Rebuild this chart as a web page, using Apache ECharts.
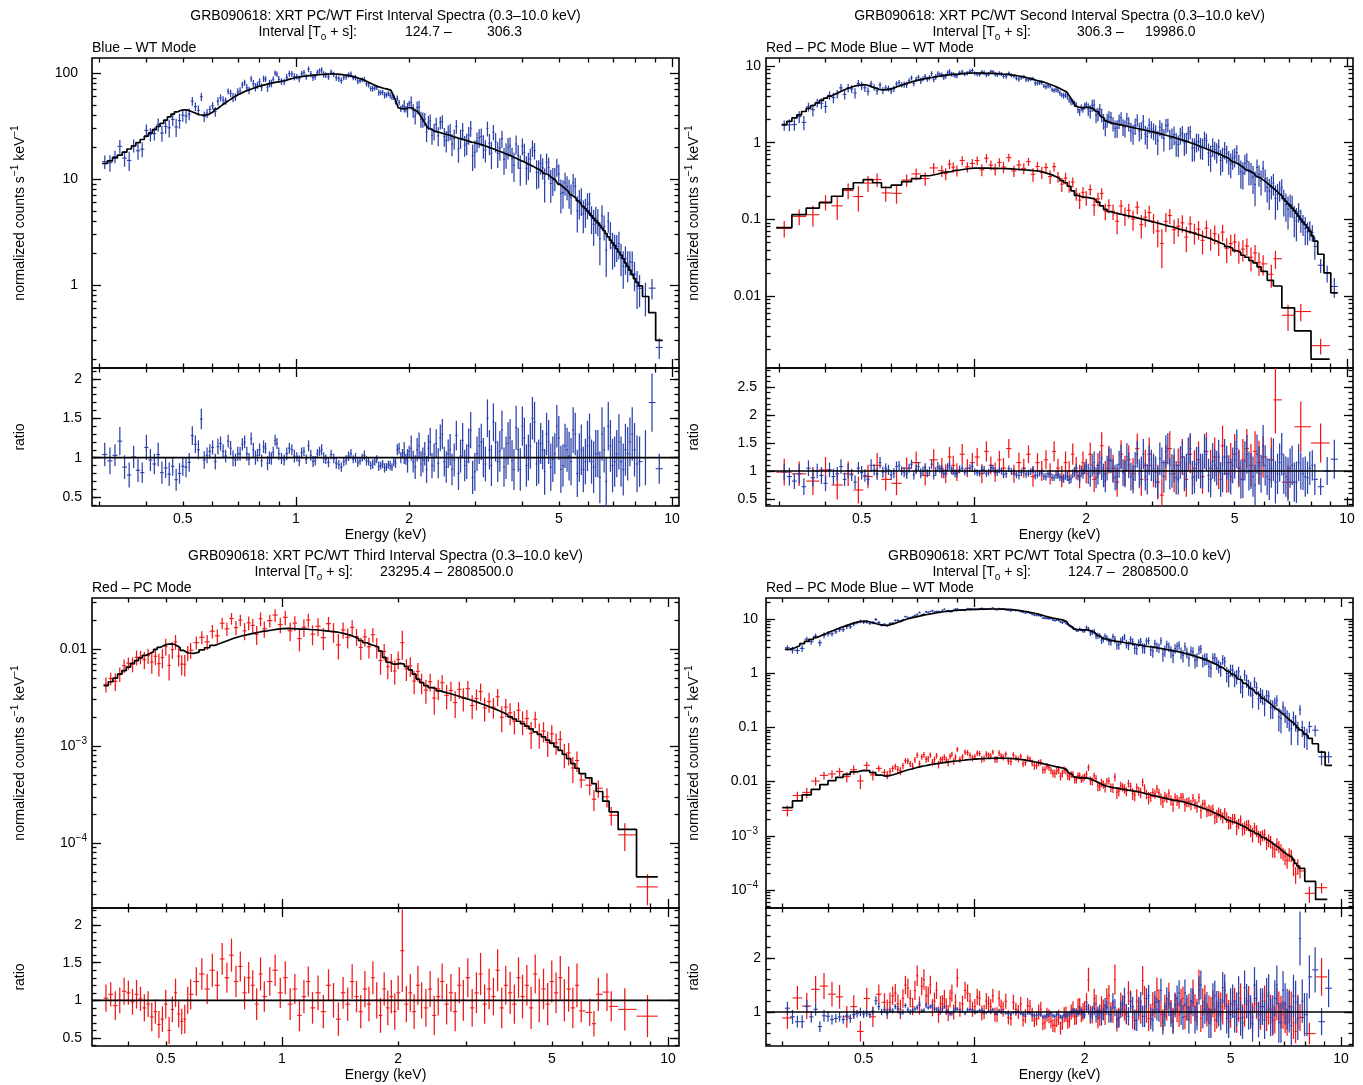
<!DOCTYPE html>
<html><head><meta charset="utf-8">
<script src="https://cdn.jsdelivr.net/npm/echarts@6/dist/echarts.min.js"></script>
<style>html,body{margin:0;padding:0;background:#fff}#c{width:1363px;height:1085px}</style>
</head><body><div id="c"></div>
<script>
const _ = null;
// Shared bin centres (keV)
const ENERGY_KEV = [0.31,0.32,0.33,0.34,0.35,0.36,0.37,0.38,0.39,0.40,
0.41,0.42,0.43,0.44,0.45,0.46,0.47,0.48,0.49,0.50,
0.51,0.52,0.53,0.54,0.55,0.56,0.57,0.58,0.60,0.62,
0.64,0.66,0.68,0.70,0.72,0.74,0.76,0.78,0.80,0.82,
0.84,0.86,0.88,0.90,0.93,0.96,0.99,1.02,1.05,1.08,
1.11,1.14,1.17,1.20,1.24,1.28,1.32,1.36,1.40,1.44,
1.48,1.52,1.56,1.60,1.64,1.68,1.72,1.76,1.80,1.84,
1.88,1.92,1.96,2.00,2.05,2.10,2.15,2.20,2.25,2.30,
2.36,2.42,2.48,2.54,2.60,2.67,2.74,2.81,2.88,2.95,
3.03,3.11,3.19,3.27,3.35,3.44,3.53,3.62,3.71,3.80,
3.90,4.00,4.10,4.20,4.31,4.42,4.53,4.64,4.76,4.88,
5.00,5.13,5.26,5.39,5.53,5.67,5.81,5.96,6.11,6.27,
6.43,6.60,6.77,6.95,7.13,7.32,7.52,7.73,7.95,8.20,
8.50,8.85,9.25];
// Extra, finer bin centres where the WT / total spectra are densely sampled (keV)
const ENERGY_KEV_FINE = [0.59,0.61,0.63,0.65,0.67,0.69,0.71,0.73,0.75,0.77,
0.79,0.81,0.83,0.85,0.87,0.89,0.915,0.945,0.975,1.005,
1.035,1.065,1.095,1.125,1.155,1.185,1.22,1.26,1.30,1.34,
1.38,1.42,1.46,1.50,1.54,1.58,1.62,1.66,1.70,1.74,
1.78,1.82,1.86,1.90,1.94,1.98,2.025,2.075,2.125,2.175,
2.225,2.275,2.33,2.39,2.45,2.51,2.57,2.635,2.705,2.775,
2.845,2.915,2.99,3.07,3.15,3.23,3.31,3.395,3.485,3.575,
3.665,3.755,3.85,3.95,4.05,4.15,4.255,4.365,4.475,4.585,
4.70,4.82,4.94,5.065,5.195,5.325,5.46,5.60,5.74,5.885,
6.035,6.19,6.35,6.515,6.685,6.86,7.04,7.225,7.42,7.625,
7.84,8.075];

// ---- First interval, WT (blue) ----
const TL_WT_MODEL = [14.0,14.8,15.8,16.8,17.9,19.2,20.5,22.0,23.6,25.4,
27.2,29.2,31.3,33.5,36.0,38.5,41.0,43.0,44.5,45.0,
44.6,43.6,42.4,41.2,40.4,40.0,40.1,40.5,43.5,47.5,
51.5,55.5,59.5,63,66,69,71,73.5,75.5,77.5,
79,80.5,82,83,85,88,90.5,92,93.5,94.5,
95.5,96.5,97,97.5,98,97.5,96.5,95,93,90.5,
88,84.5,81,77.5,74.5,72.5,71,70,67,58,
47,45.5,46.5,47.5,46.5,43,40,35,30.5,28.5,
27.8,27.2,26.5,26,25.2,24.5,23.8,23.2,22.6,22.1,
21.6,21,20.4,19.7,19.1,18.4,17.8,17.1,16.5,15.9,
15.2,14.6,14,13.4,12.8,12.2,11.6,11.1,10.3,9.7,
8.95,8.3,7.7,7.1,6.55,6.0,5.5,5.0,4.5,4.05,
3.65,3.25,2.85,2.5,2.2,1.92,1.62,1.38,1.15,0.98,
0.78,0.55,0.3];
const TL_WT_RATIO_PCT = [104,96,103,121,88,78,101,84,81,113,
97,92,104,81,87,79,89,72,80,89,
88,94,128,117,110,149,97,103,113,114,
108,121,99,105,117,105,124,100,110,114,
93,99,122,105,97,112,102,96,108,115,
95,105,110,98,104,93,88,97,105,100,
96,103,95,92,98,90,87,91,88,93,
112,105,98,108,95,110,92,105,112,90,
118,125,95,105,85,128,102,90,115,75,
105,120,92,110,145,95,135,100,125,85,
110,140,90,115,145,95,110,130,88,105,
125,90,110,95,130,100,85,115,95,105,
75,110,140,90,105,95,110,120,110,95,
100,170,86];
const TL_WT_ERR_PCT = [15,17,14,18,15,16,14,15,13,16,
14,13,15,14,13,15,12,14,13,12,
13,12,12,11,12,13,11,10,9,10,
9,8,10,9,8,9,8,9,8,8,
9,8,7,8,7,7,8,7,6,7,
7,6,7,6,6,7,6,6,6,6,
5,6,5,6,5,5,6,5,5,6,
7,6,7,7,14,15,16,15,17,16,
18,17,19,18,20,19,21,20,22,21,
22,23,22,25,24,26,25,27,24,26,
28,25,27,29,26,28,25,27,30,26,
28,27,28,30,27,31,29,32,28,30,
33,29,31,34,30,32,33,31,34,32,
35,37,19];
const TL_WT_MODEL_FINE = [42,45.5,49.5,53.5,57.5,61.2,64.5,67.5,70,72.2,
74.5,76.5,78.2,79.8,81.2,82.5,84,86.5,89.2,91.2,
92.8,94,95,96,96.8,97.2,97.8,97.8,97,95.8,
94,91.8,89.2,86.2,82.8,79.2,76,73.5,71.8,70.5,
68.5,62.5,52.5,46,46,47,47,44.8,41.5,37.5,
32.8,29.5,28.1,27.5,26.8,26.2,25.6,24.8,24.1,23.5,
22.9,22.3,21.8,21.3,20.7,20,19.4,18.7,18.1,17.4,
16.8,16.2,15.5,14.9,14.3,13.7,13.1,12.5,11.9,11.3,
10.7,10,9.3,8.6,8.0,7.4,6.8,6.25,5.75,5.25,
4.75,4.25,3.85,3.45,3.05,2.65,2.35,2.05,1.77,1.5,
1.26,1.06];
const TL_WT_RATIO_PCT_FINE = [108,95,118,102,112,97,105,120,98,110,
103,96,112,100,107,118,99,105,110,101,
106,98,103,96,108,100,94,99,91,95,
102,98,94,100,96,90,95,89,92,88,
90,95,110,100,106,96,112,88,115,97,
85,120,100,93,130,88,110,97,80,122,
95,135,82,115,100,150,90,120,108,88,
118,96,138,85,125,100,150,92,118,82,
120,98,140,85,115,102,135,80,110,95,
125,88,105,130,70,115,95,120,85,105,
130,92];
const TL_WT_ERR_PCT_FINE = [9,10,9,8,9,8,9,8,8,9,
8,8,7,8,7,7,7,8,7,6,
7,6,7,6,6,7,6,6,6,6,
6,5,6,5,6,5,5,6,5,5,
6,6,7,7,14,15,16,15,17,16,
17,18,18,19,19,20,20,21,21,22,
22,23,24,23,25,24,26,25,26,25,
27,26,28,27,26,29,27,28,26,29,
28,29,27,30,28,31,29,30,32,29,
31,33,30,34,31,33,32,35,33,34,
34,36];

// ---- Second interval, WT (blue) ----
const TR_WT_MODEL = [1.72,1.9,2.1,2.3,2.55,2.8,3.05,3.3,3.55,3.8,
4.05,4.3,4.55,4.8,5.0,5.2,5.4,5.55,5.65,5.7,
5.65,5.5,5.3,5.15,5.0,4.92,4.9,4.92,5.1,5.4,
5.7,6.0,6.25,6.5,6.7,6.9,7.05,7.2,7.35,7.5,
7.6,7.7,7.8,7.85,7.95,8.05,8.1,8.1,8.05,8.0,
8.0,7.95,7.9,7.8,7.7,7.55,7.35,7.15,6.9,6.65,
6.4,6.2,5.95,5.7,5.45,5.15,4.85,4.6,4.3,3.6,
3.0,2.85,2.85,2.9,2.85,2.7,2.5,2.2,1.95,1.82,
1.77,1.73,1.69,1.65,1.61,1.56,1.52,1.48,1.44,1.40,
1.36,1.32,1.28,1.24,1.2,1.16,1.11,1.07,1.03,0.99,
0.95,0.9,0.86,0.82,0.78,0.74,0.71,0.67,0.63,0.59,
0.55,0.51,0.47,0.44,0.41,0.38,0.35,0.32,0.29,0.26,
0.235,0.21,0.185,0.16,0.14,0.12,0.1,0.085,0.07,0.052,
0.035,0.02,0.011];
const TR_WT_RATIO_PCT = [98,90,82,95,72,105,88,100,92,78,
102,90,95,108,85,100,93,80,105,97,
92,85,110,102,95,115,98,105,93,108,
100,95,112,103,96,106,100,92,108,102,
97,110,100,95,105,100,108,97,103,95,
106,99,102,94,104,98,92,101,96,103,
93,98,90,95,88,93,86,91,84,95,
105,88,95,108,90,115,95,105,82,120,
100,90,125,95,110,85,130,100,90,120,
105,80,115,135,95,110,85,125,100,140,
90,115,100,130,85,110,125,95,115,90,
120,105,85,130,100,75,110,145,90,105,
80,115,95,85,110,80,100,90,105,85,
72,100,121];
const TR_WT_ERR_PCT = [15,16,14,17,15,14,16,13,15,14,
13,14,12,13,12,13,11,12,11,12,
11,10,11,10,11,10,10,9,9,9,
8,9,8,8,9,8,8,7,8,8,
7,8,7,7,7,6,7,6,7,6,
6,7,6,6,6,6,7,6,6,6,
6,6,7,6,6,7,6,7,7,8,
8,9,9,10,18,20,19,21,20,22,
21,23,22,24,23,25,24,26,25,27,
26,28,27,29,28,30,27,29,31,28,
30,29,31,30,32,29,31,33,30,32,
34,31,33,35,32,36,34,37,33,35,
38,34,36,39,35,37,33,36,30,28,
15,25,35];
const TR_WT_MODEL_FINE = [5.0,5.25,5.55,5.85,6.12,6.38,6.6,6.8,6.98,7.12,
7.28,7.42,7.55,7.65,7.75,7.82,7.9,8.0,8.08,8.1,
8.08,8.02,8.0,7.98,7.92,7.85,7.75,7.62,7.45,7.25,
7.02,6.78,6.52,6.3,6.08,5.82,5.58,5.3,5.0,4.72,
4.45,3.95,3.3,2.92,2.85,2.88,2.88,2.78,2.6,2.35,
2.08,1.88,1.8,1.75,1.71,1.67,1.63,1.58,1.54,1.5,
1.46,1.42,1.38,1.34,1.3,1.26,1.22,1.18,1.13,1.09,
1.05,1.01,0.97,0.92,0.88,0.84,0.8,0.76,0.72,0.69,
0.65,0.61,0.57,0.53,0.49,0.455,0.425,0.395,0.365,0.335,
0.305,0.275,0.248,0.222,0.198,0.172,0.15,0.13,0.11,0.092,
0.078,0.061];
const TR_WT_RATIO_PCT_FINE = [102,96,110,98,105,93,108,100,96,112,
99,104,95,107,101,96,103,98,105,99,
96,102,98,105,97,100,95,99,93,97,
94,99,92,96,90,95,88,93,89,87,
90,86,98,92,100,104,95,110,88,115,
92,105,118,88,112,97,125,90,108,95,
130,85,110,98,122,90,140,100,88,115,
95,130,88,112,100,135,92,118,105,85,
125,95,110,140,85,118,100,90,130,95,
110,85,120,95,130,90,105,80,115,95,
88,110];
const TR_WT_ERR_PCT_FINE = [9,9,8,9,8,8,8,8,7,8,
8,7,8,7,7,7,7,6,7,6,
6,7,6,6,6,6,7,6,6,6,
6,6,7,6,6,7,6,7,7,8,
8,8,9,9,10,10,18,20,19,21,
21,22,22,23,24,24,25,25,26,26,
27,27,28,28,29,29,28,30,30,29,
31,30,30,31,31,31,30,32,31,31,
32,33,32,34,34,35,35,36,35,34,
36,37,38,36,38,36,35,35,33,29,
29,27];

// ---- Second interval, PC (red) ----
const TR_PC_MODEL = [0.078,_,_,0.115,_,_,0.14,_,_,0.165,
_,_,0.2,_,_,0.25,_,_,0.3,_,
_,0.33,_,_,0.3,_,_,0.26,_,0.28,
_,0.31,_,0.34,_,0.37,_,0.39,_,0.41,
0.415,0.42,0.435,0.44,0.45,0.46,0.465,0.467,0.466,0.465,
0.463,0.462,0.46,0.458,0.455,0.45,0.445,0.44,0.435,0.43,
0.425,0.41,0.395,0.38,0.36,0.34,0.32,0.3,0.27,0.235,
0.205,0.198,0.195,0.192,0.188,0.18,0.168,0.15,0.135,0.126,
0.121,0.118,0.115,0.112,0.109,0.106,0.103,0.1,0.097,0.094,
0.091,0.088,0.085,0.082,0.08,0.077,0.074,0.072,0.069,0.067,
0.064,0.062,0.059,0.057,0.054,0.052,0.049,0.047,0.044,0.042,
0.039,0.037,0.034,0.032,0.029,0.027,0.024,0.021,_,0.016,
0.0135,_,_,0.007,_,_,0.0035,_,_,_,
0.0015,_,_];
const TR_PC_RATIO_PCT = [98,_,_,95,_,_,82,_,_,102,
_,_,75,_,_,95,_,_,66,_,
_,90,_,_,110,_,_,85,_,78,
_,105,_,115,_,92,_,120,_,105,
95,125,110,98,130,105,115,125,95,135,
110,98,120,105,140,95,115,105,130,90,
115,100,120,95,135,105,90,115,100,130,
105,90,115,100,130,85,110,145,95,120,
105,80,130,100,120,95,140,85,110,130,
100,80,57,115,140,95,110,125,85,130,
105,120,90,135,105,125,100,145,95,115,
130,105,120,140,110,135,115,125,_,120,
227,_,_,80,_,_,179,_,_,_,
150,_,_];
const TR_PC_ERR_PCT = [24,_,_,22,_,_,25,_,_,23,
_,_,26,_,_,22,_,_,24,_,
_,21,_,_,22,_,_,20,_,21,
_,19,_,20,_,18,_,19,_,18,
17,18,17,16,18,16,17,16,17,18,
16,17,16,18,17,16,18,17,16,18,
17,18,17,19,18,17,19,20,18,19,
20,21,20,22,21,23,22,24,23,25,
24,26,25,27,26,28,27,29,28,30,
29,31,30,32,31,33,30,32,31,34,
32,33,31,34,33,35,32,36,34,35,
36,34,37,35,38,36,39,37,_,40,
60,_,_,30,_,_,45,_,_,_,
35,_,_];

// ---- Third interval, PC (red) ----
const BL_PC_MODEL = [_,_,_,_,0.0042,0.0046,0.005,0.0055,0.006,0.0065,
0.0071,0.0076,0.0081,0.0086,0.009,0.0094,0.0099,0.0104,0.0109,0.0112,
0.0113,0.0112,0.0108,0.0103,0.0097,0.0093,0.0091,0.009,0.0093,0.0098,
0.0103,0.0109,0.0114,0.0119,0.0124,0.0129,0.0133,0.0137,0.014,0.0143,
0.0146,0.0149,0.0152,0.0154,0.0157,0.016,0.0162,0.0163,0.0162,0.0161,
0.016,0.016,0.0159,0.0158,0.0156,0.0154,0.0152,0.015,0.0147,0.0143,
0.0139,0.0134,0.0128,0.0122,0.0116,0.0111,0.0108,0.0105,0.0095,0.0082,
0.0073,0.007,0.007,0.0071,0.007,0.0066,0.0061,0.0055,0.0049,0.0045,
0.0042,0.004,0.0039,0.0037,0.0036,0.0035,0.0034,0.0033,0.0032,0.0031,
0.003,0.0029,0.0028,0.0027,0.0026,0.0025,0.0024,0.0023,0.0022,0.0021,
0.002,0.0019,0.0018,0.0017,0.0016,0.0015,0.0014,0.00132,0.00124,0.00115,
0.00107,0.00098,0.0009,0.00082,0.00074,0.00066,0.00059,0.00052,_,0.00047,
0.00041,0.00034,_,0.00027,0.00021,_,_,0.000138,_,_,
_,0.0000447,_];
const BL_PC_RATIO_PCT = [_,_,_,_,103,108,93,100,112,110,
98,108,102,90,95,78,85,68,75,95,
60,88,110,82,72,75,100,108,125,135,
115,140,120,155,130,160,125,145,110,130,
120,95,135,105,125,140,110,130,95,115,
80,105,125,90,110,85,120,100,75,110,
95,125,105,85,115,95,130,100,80,115,
90,105,85,110,166,95,110,85,120,100,
90,115,80,105,125,95,110,85,120,100,
130,90,110,135,95,115,105,140,90,120,
110,95,130,105,120,90,135,100,115,95,
125,110,130,100,115,90,120,86,_,84,
69,108,_,111,92,_,_,88,_,_,
_,79,_];
const BL_PC_ERR_PCT = [_,_,_,_,18,16,19,17,18,16,
17,19,16,18,17,19,16,18,17,19,
18,17,19,18,17,19,18,20,19,21,
20,22,19,21,20,22,21,20,22,21,
20,21,22,20,19,21,20,22,21,20,
21,22,20,21,23,22,21,23,22,21,
22,23,21,22,24,23,22,24,23,22,
23,22,24,23,55,24,25,23,26,24,
25,24,26,25,24,27,25,26,24,27,
26,25,27,28,26,27,25,28,27,26,
28,26,27,29,27,28,26,29,27,28,
28,27,29,28,30,27,29,15,_,18,
17,22,_,25,20,_,_,28,_,_,
_,28,_];

// ---- Total, WT (blue) ----
const BR_WT_MODEL = [2.75,2.95,3.2,3.5,3.85,4.2,4.6,5.0,5.4,5.8,
6.2,6.6,7.0,7.4,7.8,8.2,8.55,8.85,9.05,9.1,
9.0,8.7,8.4,8.1,7.85,7.7,7.65,7.7,8.2,8.9,
9.6,10.2,10.7,11.2,11.7,12.1,12.5,12.9,13.3,13.6,
13.9,14.1,14.3,14.5,14.7,14.9,15.0,15.1,15.2,15.25,
15.3,15.3,15.25,15.2,15.0,14.7,14.3,13.9,13.4,12.9,
12.4,11.8,11.2,10.7,10.3,10.0,9.7,9.4,8.3,7.2,
6.5,6.3,6.3,6.35,6.2,5.8,5.3,4.8,4.4,4.15,
4.0,3.9,3.8,3.7,3.6,3.5,3.4,3.3,3.2,3.12,
3.05,2.97,2.88,2.8,2.72,2.63,2.54,2.45,2.35,2.25,
2.15,2.04,1.93,1.82,1.7,1.58,1.47,1.36,1.24,1.12,
1.0,0.89,0.79,0.7,0.61,0.53,0.46,0.4,0.345,0.3,
0.26,0.225,0.195,0.17,0.145,0.125,0.107,0.09,0.076,0.063,
0.05,0.035,0.02];
const BR_WT_RATIO_PCT = [107,91,82,82,110,91,105,73,93,92,
86,88,91,86,93,88,95,97,100,96,
98,95,102,121,110,100,104,98,102,106,
100,104,103,108,102,112,110,105,103,106,
100,97,103,105,101,104,102,100,103,99,
101,98,102,100,97,99,101,96,98,95,
94,96,92,95,93,97,91,94,96,99,
102,97,100,95,105,98,92,103,96,108,
95,108,88,115,97,120,85,110,92,125,
88,118,102,80,125,95,112,135,90,108,
120,85,140,95,110,78,130,100,145,88,
115,92,135,80,120,100,150,85,110,130,
90,125,80,140,105,75,118,236,95,165,
178,82,144];
const BR_WT_ERR_PCT = [12,13,11,12,12,11,12,10,11,10,
9,8,9,8,9,8,8,7,8,7,
7,6,7,8,7,6,6,5,5,5,
5,5,4,5,4,5,4,4,5,4,
4,4,4,4,3,4,4,3,4,3,
4,3,4,3,4,3,4,4,3,4,
4,4,4,4,4,5,4,4,5,5,
5,6,6,7,10,11,12,11,12,13,
15,16,17,16,18,17,19,18,20,19,
20,21,20,22,21,23,22,24,23,24,
24,25,26,25,27,26,28,27,29,28,
29,30,31,30,32,31,33,32,34,33,
35,34,37,36,38,37,40,50,40,40,
42,25,35];
const BR_WT_MODEL_FINE = [7.95,8.55,9.25,9.9,10.45,10.95,11.45,11.9,12.3,12.7,
13.1,13.45,13.75,14.0,14.2,14.4,14.6,14.8,14.95,15.05,
15.15,15.22,15.28,15.3,15.28,15.22,15.1,14.85,14.5,14.1,
13.65,13.15,12.65,12.1,11.5,10.95,10.5,10.15,9.85,9.55,
8.9,7.8,6.8,6.4,6.3,6.32,6.3,6.0,5.55,5.05,
4.6,4.28,4.08,3.95,3.85,3.75,3.65,3.55,3.45,3.35,
3.25,3.16,3.08,3.01,2.92,2.84,2.76,2.68,2.58,2.5,
2.4,2.3,2.2,2.1,1.98,1.88,1.76,1.64,1.52,1.42,
1.3,1.18,1.06,0.95,0.84,0.75,0.65,0.57,0.5,0.43,
0.37,0.32,0.28,0.242,0.21,0.182,0.157,0.135,0.116,0.098,
0.083,0.07];
const BR_WT_RATIO_PCT_FINE = [104,110,98,112,100,106,115,103,108,112,
105,99,110,102,97,106,101,98,104,100,
103,99,101,104,97,100,98,96,99,97,
95,98,93,96,91,94,97,92,95,90,
93,96,101,97,104,96,110,92,106,98,
88,112,95,120,86,105,128,92,110,84,
118,92,130,85,105,140,95,115,82,125,
100,135,85,118,92,150,105,80,125,110,
95,140,82,120,105,88,145,100,78,125,
110,85,135,95,150,80,115,100,130,88,
120,95];
const BR_WT_ERR_PCT_FINE = [5,5,5,4,5,4,5,4,4,5,
4,4,4,4,4,4,3,4,3,4,
3,4,3,4,3,4,3,4,4,3,
4,4,4,4,4,5,4,4,4,5,
5,5,6,6,7,8,10,11,12,12,
13,14,15,15,16,16,17,17,18,19,
19,20,20,21,21,22,22,23,23,24,
24,25,25,26,26,27,27,28,28,29,
29,30,30,31,31,32,32,33,33,34,
34,35,35,36,36,37,38,38,39,40,
40,40];

// ---- Total, PC (red) ----
const BR_PC_MODEL = [0.0033,_,0.0044,_,0.0057,_,0.0072,_,0.0088,_,
0.0104,_,0.012,_,0.0136,_,0.0151,_,0.0161,_,
0.016,_,0.0146,_,0.0132,_,0.0126,0.0127,0.0135,0.0146,
0.0157,0.0167,0.0176,0.0185,0.0193,0.02,0.0207,0.0213,0.0219,0.0224,
0.0229,0.0234,0.0238,0.0242,0.0248,0.0254,0.0259,0.0263,0.0266,0.0268,
0.027,0.0271,0.0271,0.027,0.0268,0.0264,0.0258,0.0251,0.0243,0.0235,
0.0226,0.0217,0.0208,0.02,0.0192,0.0186,0.018,0.0174,0.0156,0.0136,
0.0122,0.0118,0.0117,0.0117,0.0114,0.0107,0.0099,0.0091,0.0085,0.0081,
0.0078,0.0076,0.0074,0.0072,0.007,0.0068,0.0066,0.0064,0.0062,0.0059,
0.0056,0.0054,0.0052,0.005,0.0048,0.0046,0.0045,0.0044,0.0042,0.004,
0.0038,0.0036,0.0034,0.0032,0.003,0.0028,0.0026,0.0024,0.0022,0.002,
0.00188,0.00175,0.00162,0.0015,0.00138,0.00126,0.00115,0.00104,0.00094,0.00084,
0.00075,0.00066,0.00058,0.0005,0.00044,0.0004,0.00031,0.00025,_,0.000145,
_,0.000067,_];
const BR_PC_RATIO_PCT = [89,_,126,_,111,_,142,_,148,_,
133,_,128,_,91,_,110,_,64,_,
125,_,91,_,133,_,118,105,130,115,
125,144,110,167,148,130,150,120,95,115,
110,125,100,163,115,135,105,128,98,120,
110,95,125,105,90,118,100,85,112,95,
88,105,80,92,75,85,70,95,82,100,
90,110,95,105,160,95,115,90,105,125,
100,160,90,110,95,120,85,105,158,100,
95,110,120,85,105,100,115,95,125,105,
100,110,150,120,95,105,85,115,100,110,
95,120,105,90,115,100,125,95,110,90,
105,85,110,95,80,110,64,90,_,60,
_,165,_];
const BR_PC_ERR_PCT = [20,_,22,_,24,_,25,_,24,_,
23,_,22,_,20,_,21,_,19,_,
20,_,19,_,18,_,17,18,17,18,
17,18,16,19,17,18,17,16,15,16,
15,16,14,17,15,16,14,15,14,15,
14,13,15,14,13,14,13,12,14,13,
13,14,12,13,12,13,12,14,13,14,
14,15,14,15,22,16,17,16,18,19,
18,28,18,19,18,20,19,20,27,20,
20,21,22,20,21,22,21,23,22,21,
22,23,28,24,22,23,22,24,23,24,
24,25,23,24,26,25,27,24,26,25,
27,25,28,26,24,28,22,25,_,20,
_,35,_];
const BR_PC_MODEL_FINE = [0.0131,0.014,0.0151,0.0162,0.0171,0.018,0.0189,0.0196,0.0203,0.021,
0.0216,0.0221,0.0226,0.0231,0.0236,0.024,0.0245,0.0251,0.0256,0.0261,
0.0264,0.0267,0.0269,0.027,0.0271,0.027,0.0269,0.0266,0.0261,0.0255,
0.0247,0.0239,0.023,0.0221,0.0212,0.0204,0.0196,0.0189,0.0183,0.0177,
0.0165,0.0146,0.0129,0.012,0.0117,0.0117,0.0116,0.0111,0.0103,0.0095,
0.0088,0.0083,0.008,0.0077,0.0075,0.0073,0.0071,0.0069,0.0067,0.0065,
0.0063,0.006,0.0058,0.0055,0.0053,0.0051,0.0049,0.0047,0.0045,0.0044,
0.0043,0.0041,0.0039,0.0037,0.0035,0.0033,0.0031,0.0029,0.0027,0.0025,
0.0023,0.0021,0.0019,0.0018,0.00168,0.00156,0.00144,0.00132,0.0012,0.0011,
0.00099,0.00089,0.0008,0.0007,0.00062,0.00054,0.00047,0.00042,0.00036,0.00028,
_,_];
const BR_PC_RATIO_PCT_FINE = [118,135,105,150,125,140,112,160,130,108,
140,115,125,98,135,118,105,140,120,110,
125,100,115,130,95,110,120,88,105,115,
92,110,85,100,78,95,82,75,90,80,
96,85,105,92,110,100,118,95,125,88,
110,95,130,100,85,115,105,135,90,120,
100,125,88,115,140,95,110,130,85,105,
120,92,110,135,100,88,125,105,115,95,
110,130,95,115,88,125,100,120,90,115,
95,120,105,85,115,100,90,110,80,100,
_,_];
const BR_PC_ERR_PCT_FINE = [18,17,18,17,16,18,17,19,17,16,
16,15,16,15,16,15,14,16,15,14,
14,13,14,13,14,13,14,13,12,13,
13,12,13,14,12,13,12,13,14,13,
14,14,15,15,16,16,17,17,18,18,
19,19,20,20,21,21,21,22,22,22,
22,23,23,22,24,23,22,24,23,24,
23,24,24,25,24,25,25,26,25,26,
26,26,27,26,27,28,27,28,27,28,
28,29,28,29,30,30,29,31,30,32,
_,_];

// ---- tick labels & texts ----
const X_TICK_LABELS = [0.5, 1, 2, 5, 10];
const TL_Y_TICK_LABELS = [1, 10, 100];
const TR_Y_TICK_LABELS = [0.01, 0.1, 1, 10];
const BL_Y_TICK_LABELS = [1e-4, 1e-3, 0.01];
const BR_Y_TICK_LABELS = [1e-4, 1e-3, 0.01, 0.1, 1, 10];
const TL_RATIO_TICK_LABELS = [0.5, 1, 1.5, 2];
const TR_RATIO_TICK_LABELS = [0.5, 1, 1.5, 2, 2.5];
const BL_RATIO_TICK_LABELS = [0.5, 1, 1.5, 2];
const BR_RATIO_TICK_LABELS = [1, 2];
const TITLES = ['GRB090618: XRT PC/WT First Interval Spectra (0.3–10.0 keV)',
  'GRB090618: XRT PC/WT Second Interval Spectra (0.3–10.0 keV)',
  'GRB090618: XRT PC/WT Third Interval Spectra (0.3–10.0 keV)',
  'GRB090618: XRT PC/WT Total Spectra (0.3–10.0 keV)'];
const INTERVALS = [[124.7, 306.3], [306.3, 19986.0], [23295.4, 2808500.0], [124.7, 2808500.0]];
const LEGENDS = ['Blue – WT Mode', 'Red – PC Mode Blue – WT Mode', 'Red – PC Mode', 'Red – PC Mode Blue – WT Mode'];

// ---------------------------------------------------------------
const checks = {TL_WT_MODEL,TL_WT_RATIO_PCT,TL_WT_ERR_PCT,TR_WT_MODEL,TR_WT_RATIO_PCT,TR_WT_ERR_PCT,
  TR_PC_MODEL,TR_PC_RATIO_PCT,TR_PC_ERR_PCT,BL_PC_MODEL,BL_PC_RATIO_PCT,BL_PC_ERR_PCT,
  BR_WT_MODEL,BR_WT_RATIO_PCT,BR_WT_ERR_PCT,BR_PC_MODEL,BR_PC_RATIO_PCT,BR_PC_ERR_PCT};
for (const k in checks) if (checks[k].length !== ENERGY_KEV.length) throw new Error(k + ' has length ' + checks[k].length);
const checksF = {TL_WT_MODEL_FINE,TL_WT_RATIO_PCT_FINE,TL_WT_ERR_PCT_FINE,TR_WT_MODEL_FINE,TR_WT_RATIO_PCT_FINE,TR_WT_ERR_PCT_FINE,
  BR_WT_MODEL_FINE,BR_WT_RATIO_PCT_FINE,BR_WT_ERR_PCT_FINE,BR_PC_MODEL_FINE,BR_PC_RATIO_PCT_FINE,BR_PC_ERR_PCT_FINE};
for (const k in checksF) if (checksF[k].length !== ENERGY_KEV_FINE.length) throw new Error(k + ' has length ' + checksF[k].length);

const FONT = '"Liberation Sans", Arial, Helvetica, sans-serif';
const FS = 14;
const BLUE = 'rgb(44,66,170)';
const RED = 'rgb(242,22,22)';
const RICH = {
  sup: {fontSize: 10, lineHeight: 10, verticalAlign: 'top', fontFamily: FONT, color: '#000', fill: '#000'},
  sub: {fontSize: 10, lineHeight: 10, verticalAlign: 'bottom', fontFamily: FONT, color: '#000', fill: '#000'}
};

function fmt(v) {
  v = +v;
  if (v > 0 && v < 0.005) { const p = Math.round(Math.log10(v)); return '10{sup|−' + (-p) + '}'; }
  return String(+v.toPrecision(4));
}
function logDecades(a, b) {
  const o = [];
  for (let p = Math.ceil(Math.log10(a) - 1e-9); p <= Math.floor(Math.log10(b) + 1e-9); p++) o.push(+Math.pow(10, p).toPrecision(1));
  return o;
}
function logMinors(a, b) {
  const o = [];
  for (let p = Math.floor(Math.log10(a)); p <= Math.floor(Math.log10(b)); p++)
    for (let k = 2; k <= 9; k++) { const v = +(k * Math.pow(10, p)).toPrecision(2); if (v >= a && v <= b) o.push(v); }
  return o;
}
function linTicks(a, b, step) {
  const o = [];
  for (let i = Math.ceil(a / step - 1e-9); i * step <= b + 1e-9; i++) o.push(Math.round(i * step * 1000) / 1000);
  return o;
}

// merge coarse + fine bins of one spectrum; bin edges from neighbouring centres
function bins(parts) {
  const pts = [];
  parts.forEach(([E, m, r, er]) => E.forEach((e, i) => {
    if (r[i] != null && m[i] != null && er[i] != null) pts.push({e, m: m[i], r: r[i] / 100, dr: er[i] / 100});
  }));
  pts.sort((a, b) => a.e - b.e);
  pts.forEach((o, k) => {
    const prev = k > 0 ? pts[k - 1].e : null, next = k < pts.length - 1 ? pts[k + 1].e : null;
    o.lo = prev != null ? (prev + o.e) / 2 : o.e - (next - o.e) / 2;
    o.hi = next != null ? (o.e + next) / 2 : o.e + (o.e - prev) / 2;
  });
  return pts;
}

const grids = [], xAxis = [], yAxis = [], series = [], graphic = [];

function makeAxes(g, dim, cfg) {
  const arr = dim === 'x' ? xAxis : yAxis;
  const first = arr.length;
  const tickStyle = {color: '#000', width: 1.3};
  cfg.positions.forEach((pos, pi) => {
    [[cfg.majors, 9], [cfg.minors, 4.5]].forEach(([vals, len], ki) => {
      const ax = {gridIndex: g, type: cfg.type, min: cfg.min, max: cfg.max, position: pos,
        axisLine: {show: false, onZero: false}, splitLine: {show: false}, splitArea: {show: false},
        minorTick: {show: false}, axisTick: {show: true, inside: true, length: len, customValues: vals, lineStyle: tickStyle},
        axisLabel: {show: false}, axisPointer: {show: false}, silent: true};
      if (cfg.type === 'log') ax.logBase = 10;
      if (pi === 0 && ki === 0) {
        if (cfg.labels) ax.axisLabel = {show: true, customValues: cfg.labels, formatter: fmt, margin: cfg.labelMargin,
          color: '#000', fontFamily: FONT, fontSize: FS, lineHeight: 20, rich: RICH};
        if (cfg.name) {
          ax.name = cfg.name; ax.nameLocation = 'middle'; ax.nameGap = cfg.nameGap;
          if (cfg.noMove) ax.nameMoveOverlap = false;
          if (cfg.nameRotate != null) ax.nameRotate = cfg.nameRotate;
          ax.nameTextStyle = {color: '#000', fontFamily: FONT, fontSize: FS, lineHeight: 20, rich: RICH};
        }
      }
      arr.push(ax);
    });
  });
  return first;
}

function addGrid(left, top, width, height) {
  grids.push({left, top, width, height, show: true, borderColor: '#000', borderWidth: 1.6,
    backgroundColor: 'rgba(0,0,0,0)', containLabel: false, outerBoundsMode: 'none'});
  return grids.length - 1;
}

function crossSeries(xi, yi, data, color, z) {
  return {type: 'custom', xAxisIndex: xi, yAxisIndex: yi, data, z, silent: true, animation: false,
    encode: {x: [0, 2, 3], y: [1, 4, 5]},
    renderItem(params, api) {
      const cs = params.coordSys;
      const x0 = cs.x, x1 = cs.x + cs.width, y0 = cs.y, y1 = cs.y + cs.height;
      const cl = (v, a, b) => Math.min(b, Math.max(a, v));
      const e = api.value(0), v = api.value(1), lo = api.value(2), hi = api.value(3), vl = api.value(4), vh = api.value(5);
      const a = api.coord([lo, v]), b = api.coord([hi, v]), c = api.coord([e, vl]), d = api.coord([e, vh]);
      const ch = [];
      if (a[1] >= y0 && a[1] <= y1)
        ch.push({type: 'line', shape: {x1: cl(a[0], x0, x1), y1: a[1], x2: cl(b[0], x0, x1), y2: b[1]}, style: {stroke: color, lineWidth: 1.1}});
      const cy = cl(c[1], y0, y1), dy = cl(d[1], y0, y1);
      if (c[0] >= x0 && c[0] <= x1 && cy !== dy)
        ch.push({type: 'line', shape: {x1: c[0], y1: cy, x2: d[0], y2: dy}, style: {stroke: color, lineWidth: 1.25}});
      return {type: 'group', children: ch};
    }};
}

const PANELS = [
  {left: 92, top: 58, x: [0.2867, 10.44], y: [0.165, 138.5], r: [0.386, 2.139], rMaj: 0.5, rMin: 0.1,
   yLabels: TL_Y_TICK_LABELS, rLabels: TL_RATIO_TICK_LABELS, yMargin: 14, rMargin: 10,
   sets: [{parts: [[ENERGY_KEV, TL_WT_MODEL, TL_WT_RATIO_PCT, TL_WT_ERR_PCT], [ENERGY_KEV_FINE, TL_WT_MODEL_FINE, TL_WT_RATIO_PCT_FINE, TL_WT_ERR_PCT_FINE]], c: BLUE, z: 3}],
   text: {cx: 385.5, lblRight: 357, n1: 405, n2: 487}},
  {left: 766, top: 58, x: [0.277, 10.38], y: [0.00115, 12.71], r: [0.375, 2.839], rMaj: 0.5, rMin: 0.1,
   yLabels: TR_Y_TICK_LABELS, rLabels: TR_RATIO_TICK_LABELS, yMargin: 5, rMargin: 9,
   sets: [{parts: [[ENERGY_KEV, TR_PC_MODEL, TR_PC_RATIO_PCT, TR_PC_ERR_PCT]], c: RED, z: 2},
          {parts: [[ENERGY_KEV, TR_WT_MODEL, TR_WT_RATIO_PCT, TR_WT_ERR_PCT], [ENERGY_KEV_FINE, TR_WT_MODEL_FINE, TR_WT_RATIO_PCT_FINE, TR_WT_ERR_PCT_FINE]], c: BLUE, z: 3}],
   text: {cx: 1059.5, lblRight: 1031, n1: 1077, n2: 1145}},
  {left: 92, top: 598, x: [0.322, 10.68], y: [2.14e-5, 0.03356], r: [0.394, 2.226], rMaj: 0.5, rMin: 0.1,
   yLabels: BL_Y_TICK_LABELS, rLabels: BL_RATIO_TICK_LABELS, yMargin: 5, rMargin: 10,
   sets: [{parts: [[ENERGY_KEV, BL_PC_MODEL, BL_PC_RATIO_PCT, BL_PC_ERR_PCT]], c: RED, z: 3}],
   text: {cx: 385.5, lblRight: 353, n1: 380, n2: 447}},
  {left: 766, top: 598, x: [0.271, 10.78], y: [4.66e-5, 24.4], r: [0.37, 2.926], rMaj: 1, rMin: 0.2,
   yLabels: BR_Y_TICK_LABELS, rLabels: BR_RATIO_TICK_LABELS, yMargin: 8, rMargin: 5,
   sets: [{parts: [[ENERGY_KEV, BR_PC_MODEL, BR_PC_RATIO_PCT, BR_PC_ERR_PCT], [ENERGY_KEV_FINE, BR_PC_MODEL_FINE, BR_PC_RATIO_PCT_FINE, BR_PC_ERR_PCT_FINE]], c: RED, z: 2},
          {parts: [[ENERGY_KEV, BR_WT_MODEL, BR_WT_RATIO_PCT, BR_WT_ERR_PCT], [ENERGY_KEV_FINE, BR_WT_MODEL_FINE, BR_WT_RATIO_PCT_FINE, BR_WT_ERR_PCT_FINE]], c: BLUE, z: 3}],
   text: {cx: 1059.5, lblRight: 1031, n1: 1068, n2: 1122}}
];

const W = 587, SPEC_H = 310, RATIO_H = 138;

PANELS.forEach((P, pi) => {
  const gS = addGrid(P.left, P.top, W, SPEC_H);
  const gR = addGrid(P.left, P.top + SPEC_H, W, RATIO_H);
  const xMaj = logDecades(P.x[0], P.x[1]), xMin = logMinors(P.x[0], P.x[1]);
  const sx = makeAxes(gS, 'x', {type: 'log', min: P.x[0], max: P.x[1], majors: xMaj, minors: xMin, positions: ['bottom', 'top']});
  const sy = makeAxes(gS, 'y', {type: 'log', min: P.y[0], max: P.y[1], majors: logDecades(P.y[0], P.y[1]), minors: logMinors(P.y[0], P.y[1]),
    labels: P.yLabels, labelMargin: P.yMargin, positions: ['left', 'right'],
    name: 'normalized counts s{sup|−1} keV{sup|−1}', nameGap: 62, nameRotate: 90});
  const rx = makeAxes(gR, 'x', {type: 'log', min: P.x[0], max: P.x[1], majors: xMaj, minors: xMin, positions: ['bottom', 'top'],
    labels: X_TICK_LABELS, labelMargin: 3, name: 'Energy (keV)', nameGap: 19, noMove: true});
  const ry = makeAxes(gR, 'y', {type: 'value', min: P.r[0], max: P.r[1], majors: linTicks(P.r[0], P.r[1], P.rMaj), minors: linTicks(P.r[0], P.r[1], P.rMin),
    labels: P.rLabels, labelMargin: P.rMargin, positions: ['left', 'right'], name: 'ratio', nameGap: 62, nameRotate: 90});

  P.sets.forEach(S => {
    const b = bins(S.parts);
    const spec = b.map(o => { const v = o.m * o.r, dv = o.m * o.dr; return [o.e, v, o.lo, o.hi, Math.max(v - dv, v * 0.05), v + dv]; });
    const rat = b.map(o => [o.e, o.r, o.lo, o.hi, o.r - o.dr, o.r + o.dr]);
    const step = [];
    b.forEach(o => { step.push([o.lo, o.m]); step.push([o.hi, o.m]); });
    series.push(crossSeries(sx, sy, spec, S.c, S.z));
    series.push(crossSeries(rx, ry, rat, S.c, S.z));
    series.push({type: 'line', xAxisIndex: sx, yAxisIndex: sy, data: step, symbol: 'none', showSymbol: false,
      lineStyle: {color: '#000', width: 1.7}, z: 6, silent: true, animation: false, clip: true});
  });
  series.push({type: 'line', xAxisIndex: rx, yAxisIndex: ry, data: [[P.x[0], 1], [P.x[1], 1]], symbol: 'none', showSymbol: false,
    lineStyle: {color: '#000', width: 1.7}, z: 6, silent: true, animation: false});

  const t = P.text, yT = P.top - 41.5;
  const base = {fill: '#000', fontFamily: FONT, fontSize: FS, verticalAlign: 'middle', lineHeight: 20, rich: RICH};
  graphic.push({type: 'text', x: t.cx, y: yT, z: 10, style: Object.assign({}, base, {text: TITLES[pi], align: 'center'})});
  graphic.push({type: 'text', x: t.lblRight, y: yT + 15.5, z: 10, style: Object.assign({}, base, {text: 'Interval [T{sub|o} + s]:', align: 'right'})});
  graphic.push({type: 'text', x: t.n1, y: yT + 15.5, z: 10, style: Object.assign({}, base, {text: INTERVALS[pi][0].toFixed(1) + ' –', align: 'left'})});
  graphic.push({type: 'text', x: t.n2, y: yT + 15.5, z: 10, style: Object.assign({}, base, {text: INTERVALS[pi][1].toFixed(1), align: 'left'})});
  graphic.push({type: 'text', x: P.left, y: P.top - 10, z: 10, style: Object.assign({}, base, {text: LEGENDS[pi], align: 'left'})});
});

const chart = echarts.init(document.getElementById('c'), null, {renderer: 'canvas'});
chart.setOption({animation: false, backgroundColor: '#fff', grid: grids, xAxis, yAxis, series, graphic});
</script></body></html>
